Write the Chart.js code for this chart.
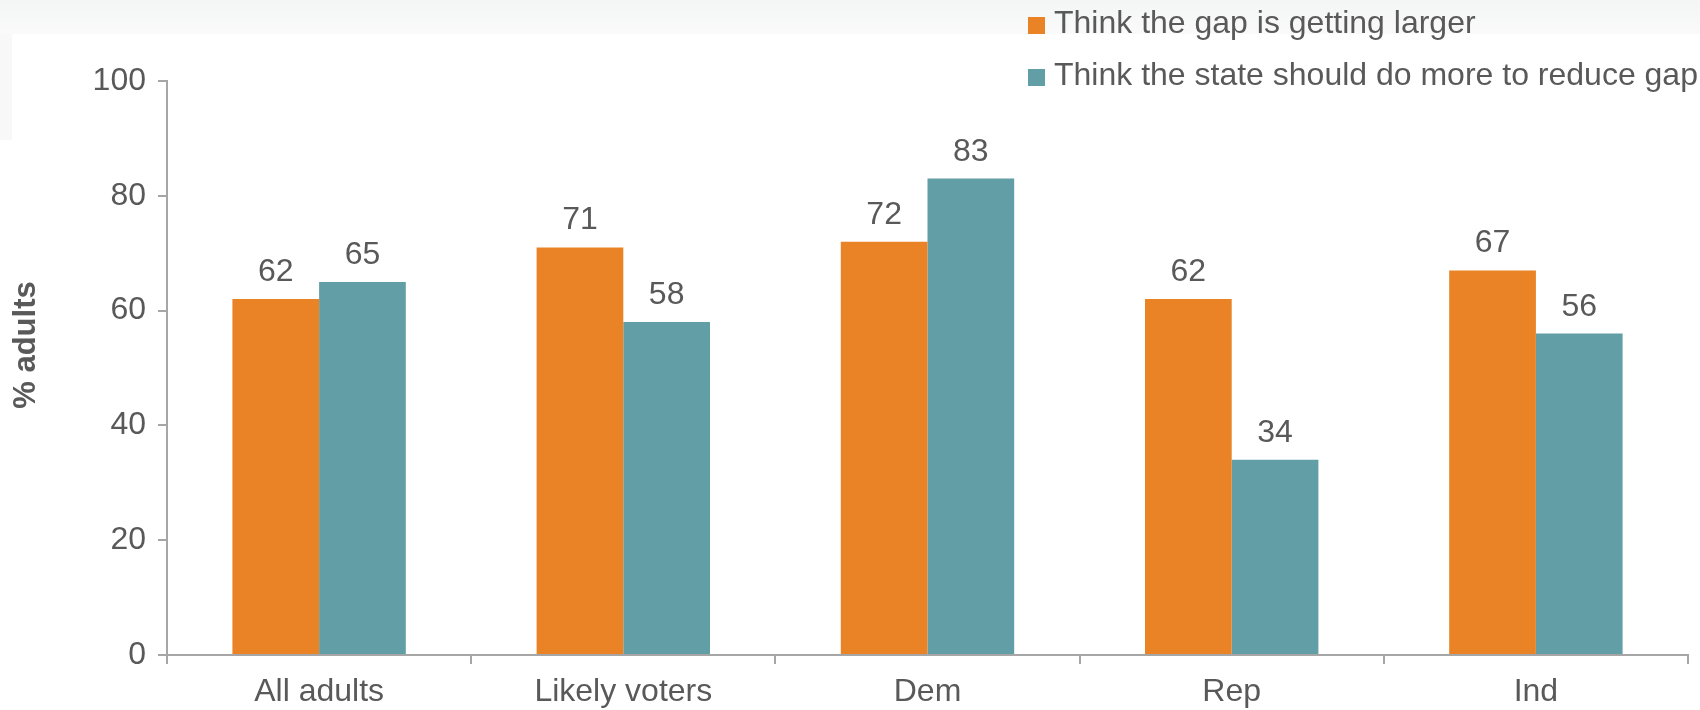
<!DOCTYPE html>
<html>
<head>
<meta charset="utf-8">
<script src="https://cdn.jsdelivr.net/npm/chart.js@4.4.0/dist/chart.umd.min.js"></script>
<style>
  body { margin: 0; background: #fff; font-family: "Liberation Sans", Arial, sans-serif; }
  #wrap { position: relative; width: 1700px; height: 710px; overflow: hidden;
          background: linear-gradient(#f4f5f5 0px, #fafafa 34px, #fff 34px); }
  #panel { position: absolute; left: 0; top: 34px; width: 12px; height: 106px; background: #f8f8f8; }
  #legend { position: absolute; left: 1028px; top: -4px; color: #595959; font-size: 32px; }
  #legend div { height: 52px; line-height: 52px; white-space: nowrap; }
  #legend span.box { display: inline-block; width: 17px; height: 17px; margin-right: 9px; vertical-align: -1px; }
  canvas { position: absolute; left: 0; top: 0; }
</style>
</head>
<body>
<div id="wrap">
  <div id="panel"></div>
  <canvas id="chart_gap" width="1700" height="710"></canvas>
  <div id="legend"></div>
</div>
<script>
// data
var groups = ["All adults", "Likely voters", "Dem", "Rep", "Ind"];
var seriesNames = ["Think the gap is getting larger", "Think the state should do more to reduce gap"];
var gapLarger = [62, 71, 72, 62, 67];
var stateMore = [65, 58, 83, 34, 56];
var yTicks = [0, 20, 40, 60, 80, 100];
var yTitle = "% adults";

var colors = ["rgb(233,131,37)", "rgb(98,158,165)"];
var textColor = "#595959";
var axisColor = "#a6a6a6";
var fontName = "'Liberation Sans', Arial, sans-serif";

// value labels on top of bars + axis title
var barLabels = {
    id: "barLabels",
    afterDatasetsDraw: function(chart) {
        var ctx = chart.ctx;
        ctx.save();
        ctx.fillStyle = textColor;
        ctx.font = "32px " + fontName;
        ctx.textAlign = "center";
        ctx.textBaseline = "alphabetic";
        chart.data.datasets.forEach(function(ds, i) {
            chart.getDatasetMeta(i).data.forEach(function(bar, j) {
                ctx.fillText(ds.data[j], bar.x, bar.y - 18);
            });
        });
        // y title, sits a bit above the middle of the axis
        ctx.font = "bold 31px " + fontName;
        ctx.translate(26, chart.chartArea.top + (chart.chartArea.bottom - chart.chartArea.top) * 0.46);
        ctx.rotate(-Math.PI / 2);
        ctx.textBaseline = "middle";
        ctx.fillText(yTitle, 0, 0);
        ctx.restore();
    }
};

const ctg = document.getElementById('chart_gap');
new Chart(ctg, {
    type: 'bar',
    data: {
        labels: groups,
        datasets: [{
            label: seriesNames[0],
            backgroundColor: colors[0],
            data: gapLarger
        }, {
            label: seriesNames[1],
            backgroundColor: colors[1],
            data: stateMore
        }]
    },
    options: {
        responsive: false,
        animation: false,
        layout: { padding: { top: 81, right: 12, left: 0, bottom: 0 } },
        plugins: {
            legend: { display: false },
            tooltip: { enabled: false }
        },
        datasets: { bar: { categoryPercentage: 0.57, barPercentage: 1 } },
        scales: {
            x: {
                grid: { offset: true, drawOnChartArea: false, color: axisColor, lineWidth: 2, tickLength: 9 },
                border: { color: axisColor, width: 2 },
                ticks: { color: textColor, font: { size: 32, family: fontName }, padding: 9 },
                afterFit: function(s) { s.height = 55; }
            },
            y: {
                min: 0,
                max: 100,
                afterBuildTicks: function(s) { s.ticks = yTicks.map(function(v) { return { value: v }; }); },
                grid: { drawOnChartArea: false, color: axisColor, lineWidth: 2, tickLength: 9 },
                border: { color: axisColor, width: 2 },
                ticks: { color: textColor, font: { size: 32, family: fontName }, padding: 12 },
                afterFit: function(s) { s.width = 167; }
            }
        }
    },
    plugins: [barLabels]
});

// legend
var lg = document.getElementById('legend');
seriesNames.forEach(function(name, i) {
    var row = document.createElement('div');
    var box = document.createElement('span');
    box.className = 'box';
    box.style.background = colors[i];
    row.appendChild(box);
    row.appendChild(document.createTextNode(name));
    lg.appendChild(row);
});
</script>
</body>
</html>
